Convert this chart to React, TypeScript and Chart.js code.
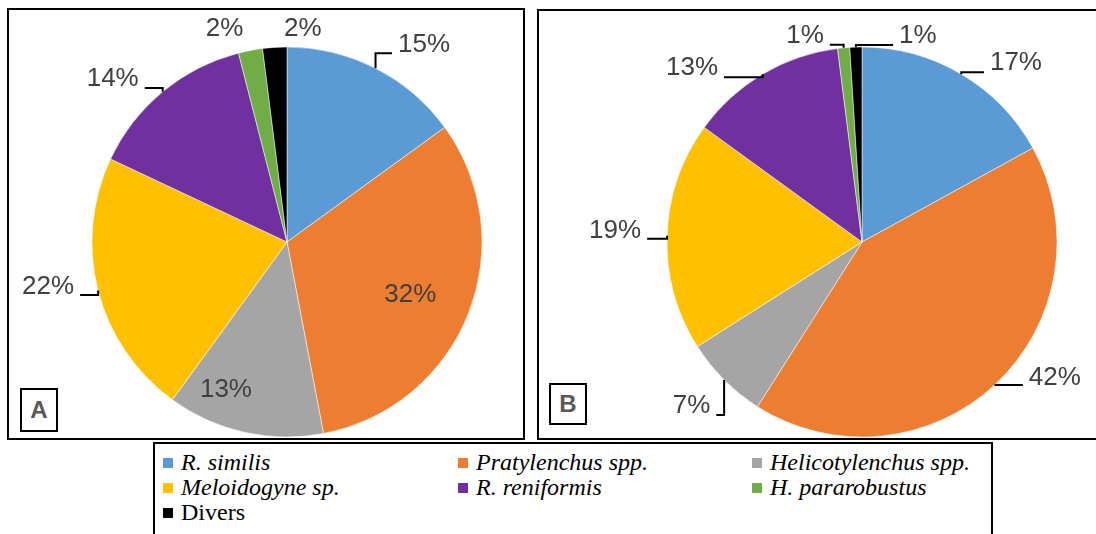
import React, { useEffect, useRef } from "react";
import { Chart, registerables } from "chart.js";

Chart.register(...registerables);

// ---------- data ----------
const categories = [
  "R. similis",
  "Pratylenchus spp.",
  "Helicotylenchus spp.",
  "Meloidogyne sp.",
  "R. reniformis",
  "H. pararobustus",
  "Divers",
];
const italicNames = [true, true, true, true, true, true, false];
const valuesA = [15, 32, 13, 22, 14, 2, 2];
const valuesB = [17, 42, 7, 19, 13, 1, 1];
const colors = ["#5B9BD5", "#ED7D31", "#A5A5A5", "#FFC000", "#7030A0", "#70AD47", "#000000"];
const panelNames = ["A", "B"];

// ---------- label placement (style) ----------
type LabelPos = { inside?: number; dx: number; dy: number; leader?: "l" | "r"; ly?: number };
const labelPosA: LabelPos[] = [
  { dx: 48.5, dy: -23, leader: "r", ly: 8 },
  { inside: 0.68, dx: 0, dy: 4 },
  { inside: 0.8, dx: -27, dy: -4 },
  { dx: -50, dy: -4, leader: "l", ly: 8.5 },
  { dx: -50, dy: -12.7, leader: "l", ly: 9 },
  { dx: -26, dy: -22 },
  { dx: 28, dy: -19 },
];
const labelPosB: LabelPos[] = [
  { dx: 54.7, dy: -11, leader: "r", ly: 9 },
  { dx: 59.4, dy: -6.6, leader: "r", ly: 7.5 },
  { dx: -32.6, dy: 26, leader: "l", ly: 9 },
  { dx: -52, dy: -5, leader: "l", ly: 8 },
  { dx: -70.7, dy: -6, leader: "l", ly: 9 },
  { dx: -38.6, dy: -12, leader: "l", ly: 9 },
  { dx: 62, dy: -11, leader: "r", ly: 9 },
];

const pieLabelPlugin = {
  id: "pieLabels",
  afterDatasetsDraw(chart: any, _args: any, opts: any) {
    const ctx: CanvasRenderingContext2D = chart.ctx;
    const meta = chart.getDatasetMeta(0);
    const data = chart.data.datasets[0].data as number[];
    const total = data.reduce((a, b) => a + b, 0);
    const pos: LabelPos[] = opts.positions || [];
    ctx.save();
    ctx.font = "26px 'Liberation Sans', Arial, sans-serif";
    ctx.textAlign = "center";
    ctx.textBaseline = "middle";
    meta.data.forEach((arc: any, i: number) => {
      const p = pos[i];
      if (!p) return;
      const { x, y, startAngle, endAngle, outerRadius } = arc.getProps(
        ["x", "y", "startAngle", "endAngle", "outerRadius"],
        true
      );
      const mid = (startAngle + endAngle) / 2;
      const r = p.inside ? outerRadius * p.inside : outerRadius;
      const bx = x + Math.cos(mid) * r;
      const by = y + Math.sin(mid) * r;
      const tx = bx + p.dx;
      const ty = by + p.dy;
      const text = Math.round((data[i] / total) * 100) + "%";
      if (p.leader) {
        const w = ctx.measureText(text).width;
        const qx = p.leader === "r" ? tx - w / 2 - 6 : tx + w / 2 + 6;
        const qy = ty + (p.ly ?? 8);
        ctx.beginPath();
        ctx.moveTo(bx, by);
        ctx.lineTo(bx, qy);
        ctx.lineTo(qx, qy);
        ctx.strokeStyle = "#000";
        ctx.lineWidth = 2;
        ctx.lineJoin = "miter";
        ctx.stroke();
      }
      ctx.fillStyle = "#404040";
      ctx.fillText(text, tx, ty);
    });
    ctx.restore();
  },
};

type PanelProps = {
  values: number[];
  positions: LabelPos[];
  box: { left: number; top: number; width: number; height: number };
  center: { x: number; y: number };
  radius: number;
  name: string;
  nameBox: { left: number; top: number; width: number; height: number };
};

function PiePanel({ values, positions, box, center, radius, name, nameBox }: PanelProps) {
  const ref = useRef<HTMLCanvasElement | null>(null);
  const bw = 2;
  const innerW = box.width - 2 * bw;
  const innerH = box.height - 2 * bw;
  useEffect(() => {
    if (!ref.current) return;
    const cx = center.x - box.left - bw;
    const cy = center.y - box.top - bw;
    const chart = new Chart(ref.current, {
      type: "pie",
      data: {
        labels: categories,
        datasets: [
          {
            data: values,
            backgroundColor: colors,
            borderColor: "#ffffff",
            borderWidth: 0.5,
            hoverOffset: 0,
            offset: 0,
            radius: radius,
          } as any,
        ],
      },
      options: {
        animation: false,
        responsive: false,
        maintainAspectRatio: false,
        events: [],
        layout: {
          padding: {
            left: cx - radius,
            right: innerW - (cx + radius),
            top: cy - radius,
            bottom: Math.max(0, innerH - (cy + radius)),
          },
        },
        plugins: {
          legend: { display: false },
          tooltip: { enabled: false },
          title: { display: false },
          pieLabels: { positions },
        } as any,
      },
      plugins: [pieLabelPlugin],
    });
    return () => chart.destroy();
  }, []);
  return (
    <>
      <div
        style={{
          position: "absolute",
          left: box.left,
          top: box.top,
          width: box.width,
          height: box.height,
          border: `${bw}px solid #000`,
          boxSizing: "border-box",
          background: "#fff",
        }}
      >
        <canvas ref={ref} width={innerW} height={innerH} style={{ display: "block", width: innerW, height: innerH }} />
      </div>
      <div
        style={{
          position: "absolute",
          left: nameBox.left,
          top: nameBox.top,
          width: nameBox.width,
          height: nameBox.height,
          border: "2px solid #000",
          boxSizing: "border-box",
          background: "#fff",
          display: "flex",
          alignItems: "center",
          justifyContent: "center",
          fontFamily: "'Liberation Sans', Arial, sans-serif",
          fontWeight: 700,
          fontSize: 24,
          color: "#595959",
        }}
      >
        {name}
      </div>
    </>
  );
}

export default function App() {
  const legendCols = [163, 458, 752];
  return (
    <div
      style={{
        position: "absolute",
        left: 0,
        top: 0,
        width: 1096,
        height: 534,
        overflow: "hidden",
        background: "#fff",
      }}
    >
      <PiePanel
        values={valuesA}
        positions={labelPosA}
        box={{ left: 7, top: 8, width: 518, height: 432 }}
        center={{ x: 287, y: 242 }}
        radius={195}
        name={panelNames[0]}
        nameBox={{ left: 20, top: 388, width: 38, height: 44 }}
      />
      <PiePanel
        values={valuesB}
        positions={labelPosB}
        box={{ left: 537, top: 9, width: 572, height: 431 }}
        center={{ x: 862, y: 242 }}
        radius={195}
        name={panelNames[1]}
        nameBox={{ left: 549, top: 383, width: 38, height: 42 }}
      />
      <div
        style={{
          position: "absolute",
          left: 153,
          top: 442,
          width: 840,
          height: 140,
          border: "2px solid #000",
          boxSizing: "border-box",
          background: "#fff",
        }}
      />
      {categories.map((c, i) => {
        const col = i % 3;
        const row = Math.floor(i / 3);
        const left = legendCols[col];
        const top = 450 + row * 25;
        return (
          <div key={c}>
            <div
              style={{
                position: "absolute",
                left,
                top: top + 8,
                width: 10,
                height: 10,
                background: colors[i],
              }}
            />
            <div
              style={{
                position: "absolute",
                left: left + 18,
                top,
                lineHeight: "25px",
                fontSize: 24,
                fontFamily: "'Liberation Serif', 'Times New Roman', serif",
                fontStyle: italicNames[i] ? "italic" : "normal",
                color: "#000",
                whiteSpace: "nowrap",
              }}
            >
              {c}
            </div>
          </div>
        );
      })}
    </div>
  );
}
